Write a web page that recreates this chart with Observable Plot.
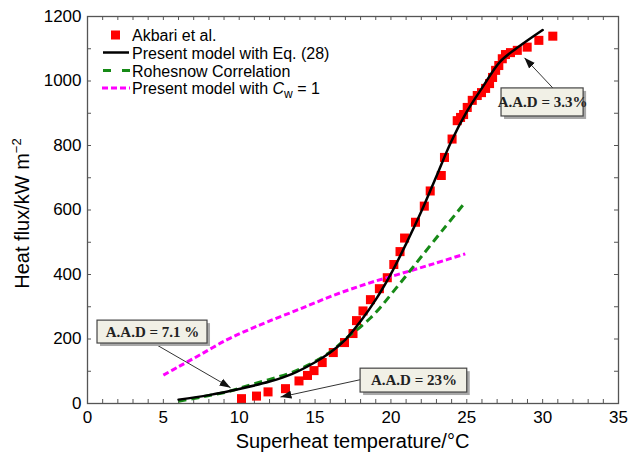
<!DOCTYPE html>
<html><head><meta charset="utf-8">
<script src="https://cdn.jsdelivr.net/npm/d3@7"></script>
<script src="https://cdn.jsdelivr.net/npm/@observablehq/plot@0.6"></script>
<style>
body{margin:0;background:#fff;}
#chart{width:640px;height:457px;}
</style></head><body><div id="chart"></div>
<script>
// ---- data ----
const akbariT = [10.15,11.14,11.9,13.05,13.94,14.5,14.93,15.47,16.2,16.94,17.5,17.73,18.16,18.65,19.24,19.76,20.19,20.6,20.9,21.62,22.2,22.59,23.32,23.53,24.03,24.37,24.59,24.79,25.03,25.36,25.69,25.97,26.24,26.5,26.7,26.9,27.11,27.34,27.55,27.88,28.33,28.98,29.75,30.67];
const akbariQ = [15,23,36,46,70,87,102,127,158,189,217,257,287,322,356,390,431,471,513,562,612,659,707,763,820,877,887,896,918,940,955,964,977,992,1011,1033,1048,1069,1082,1088,1095,1105,1126,1139];

const modelT = [6,8,10,12,13.5,15,16,17,18,19,20,21,22,23,24,25,26,27.2,28.3,30];
const modelQ = [12,26,45,68,92,128,158,198,255,322,402,495,595,705,815,905,978,1060,1102,1158];

const rohsenowT = [6,7.5,9.2,10.9,13.2,14.5,16,17.3,18,18.65,19.3,20,21,22,23.5,24.9];
const rohsenowQ = [7,20,36,60,92,118,160,212,238,265,298,338,396,455,543,624];

const cw1T = [5,6,7.5,9.2,10.5,11.9,14,16.2,18.4,20.6,22.8,24.9];
const cw1Q = [88,114,153,198,226,254,293,335,371,402,433,464];

const xTickValues = [0,5,10,15,20,25,30,35];
const yTickValues = [0,200,400,600,800,1000,1200];
const xMinorTicks = d3.range(0,36,1);
const yMinorTicks = d3.range(0,1201,100);

const seriesNames = ["Akbari et al.","Present model with Eq. (28)","Rohesnow Correlation","Present model with "];

// annotations (data units)
const aadLabels = ["A.A.D = 3.3%","A.A.D = 7.1 %","A.A.D = 23%"];
const boxX1 = [27.29,0.66,18.0];
const boxX2 = [32.7,7.91,25.03];
const boxY1 = [890,186,34];
const boxY2 = [977,257,108];
const arrowFromT = [30.7,4.4,18.0];
const arrowFromQ = [977,186,74];
const arrowToT = [28.8,9.43,12.72];
const arrowToQ = [1072,49,20];

// ---- build tables ----
const akbari = akbariT.map((t,i)=>({t, q: akbariQ[i]}));
const model = modelT.map((t,i)=>({t, q: modelQ[i]}));
const rohsenow = rohsenowT.map((t,i)=>({t, q: rohsenowQ[i]}));
const cw1 = cw1T.map((t,i)=>({t, q: cw1Q[i]}));
const notes = aadLabels.map((label,i)=>({label, x1: boxX1[i], x2: boxX2[i], y1: boxY1[i], y2: boxY2[i],
  cx: (boxX1[i]+boxX2[i])/2, cy: (boxY1[i]+boxY2[i])/2,
  ax1: arrowFromT[i], ay1: arrowFromQ[i], ax2: arrowToT[i], ay2: arrowToQ[i]}));

const W = 640, H = 457, mL = 87, mR = 22, mT = 16, mB = 54;
const innerW = W - mL - mR, innerH = H - mT - mB;
const tickLen = 4;
const magenta = "#ff00ff", green = "#168a16";

function filledArrow(color) {
  const m = d3.create("svg:marker")
    .attr("viewBox","-10 -5 10 10")
    .attr("markerWidth",11).attr("markerHeight",11)
    .attr("markerUnits","userSpaceOnUse")
    .attr("orient","auto")
    .attr("fill","#111").attr("stroke","none");
  m.append("path").attr("d","M-10,-3.6L0,0L-10,3.6Z");
  return m.node();
}

const chart = Plot.plot({
  width: W, height: H,
  marginLeft: mL, marginRight: mR, marginTop: mT, marginBottom: mB,
  style: {fontFamily: "'Liberation Sans', Arial, sans-serif", background: "#fff", color: "#000"},
  x: {domain: [0,35], ticks: xTickValues, label: null},
  y: {domain: [0,1200], ticks: yTickValues, label: null},
  marks: [
    Plot.axisX(xTickValues, {tickSize: 0, tickPadding: 7, fontSize: 17, label: null, fill: "#000", tickFormat: d3.format("d")}),
    Plot.axisY(yTickValues, {tickSize: 0, tickPadding: 6, fontSize: 17, label: null, fill: "#000", tickFormat: d3.format("d")}),
    // inward minor ticks
    Plot.ruleX(xMinorTicks, {x: d=>d, insetTop: innerH - tickLen, stroke: "#555"}),
    Plot.ruleX(xMinorTicks, {x: d=>d, insetBottom: innerH - tickLen, stroke: "#555"}),
    Plot.ruleY(yMinorTicks, {y: d=>d, insetRight: innerW - tickLen, stroke: "#555"}),
    Plot.ruleY(yMinorTicks, {y: d=>d, insetLeft: innerW - tickLen, stroke: "#555"}),
    // data
    Plot.dot(akbari, {x: "t", y: "q", symbol: "square", r: 5.1, fill: "#ff0000", stroke: "none"}),
    Plot.line(cw1, {x: "t", y: "q", stroke: magenta, strokeWidth: 3, strokeDasharray: "6,3", curve: "catmull-rom"}),
    Plot.line(rohsenow, {x: "t", y: "q", stroke: green, strokeWidth: 3, strokeDasharray: "8,5", curve: "catmull-rom"}),
    Plot.line(model, {x: "t", y: "q", stroke: "#000", strokeWidth: 2.5, curve: "catmull-rom"}),
    // annotations
    Plot.link(notes, {x1: "ax1", y1: "ay1", x2: "ax2", y2: "ay2", stroke: "#333", strokeWidth: 1, markerEnd: filledArrow}),
    Plot.rect(notes, {x1: "x1", x2: "x2", y1: "y1", y2: "y2", fill: "#a8a8a8", dx: 3, dy: 3}),
    Plot.rect(notes, {x1: "x1", x2: "x2", y1: "y1", y2: "y2", fill: "#f1f0e6", stroke: "#444", strokeWidth: 1.2}),
    Plot.text(notes, {x: "cx", y: "cy", text: "label", fontFamily: "'Liberation Serif', 'Times New Roman', serif", fontWeight: "bold", fontSize: 15, fill: "#222"}),
    Plot.frame({stroke: "#555", strokeWidth: 1.3})
  ]
});

const svg = d3.select(chart);
// make sure dash patterns are applied to the drawn paths
svg.selectAll(`g[stroke="${magenta}"] path`).attr("stroke-dasharray","6,3").attr("stroke-linecap","butt");
svg.selectAll(`g[stroke="${green}"] path`).attr("stroke-dasharray","8,5").attr("stroke-linecap","butt");

// axis titles
svg.append("text").attr("x", mL + innerW/2).attr("y", 448).attr("text-anchor","middle")
  .attr("font-size", 20).attr("fill","#000").text("Superheat temperature/°C");
const yt = svg.append("text").attr("transform", `translate(29,${mT + innerH/2 + 4}) rotate(-90)`)
  .attr("text-anchor","middle").attr("font-size",20).attr("fill","#000");
yt.append("tspan").text("Heat flux/kW m");
yt.append("tspan").attr("dy",-8).attr("font-size",13).text("−2");

// legend
const lg = svg.append("g").attr("font-size",16).attr("fill","#000").attr("text-anchor","start");
const rowY = [35, 52.5, 70.5, 88];
const tx = 132;
lg.append("rect").attr("x",111).attr("y",rowY[0]-4.5).attr("width",9).attr("height",9).attr("fill","#ff0000");
lg.append("line").attr("x1",103).attr("x2",129).attr("y1",rowY[1]).attr("y2",rowY[1]).attr("stroke","#000").attr("stroke-width",2.5);
lg.append("line").attr("x1",103).attr("x2",130).attr("y1",rowY[2]).attr("y2",rowY[2]).attr("stroke",green).attr("stroke-width",3).attr("stroke-dasharray","8,11");
lg.append("line").attr("x1",102).attr("x2",130).attr("y1",rowY[3]).attr("y2",rowY[3]).attr("stroke",magenta).attr("stroke-width",3).attr("stroke-dasharray","6,3");
seriesNames.forEach((s,i)=>{
  const t = lg.append("text").attr("x",tx).attr("y",rowY[i]+6).attr("text-anchor","start").text(s);
  if (i === 3) {
    t.append("tspan").attr("font-style","italic").text("C");
    t.append("tspan").attr("font-size",12).attr("dy",4).text("w");
    t.append("tspan").attr("dy",-4).text(" = 1");
  }
});

document.getElementById("chart").appendChild(chart);
</script>
</body></html>
